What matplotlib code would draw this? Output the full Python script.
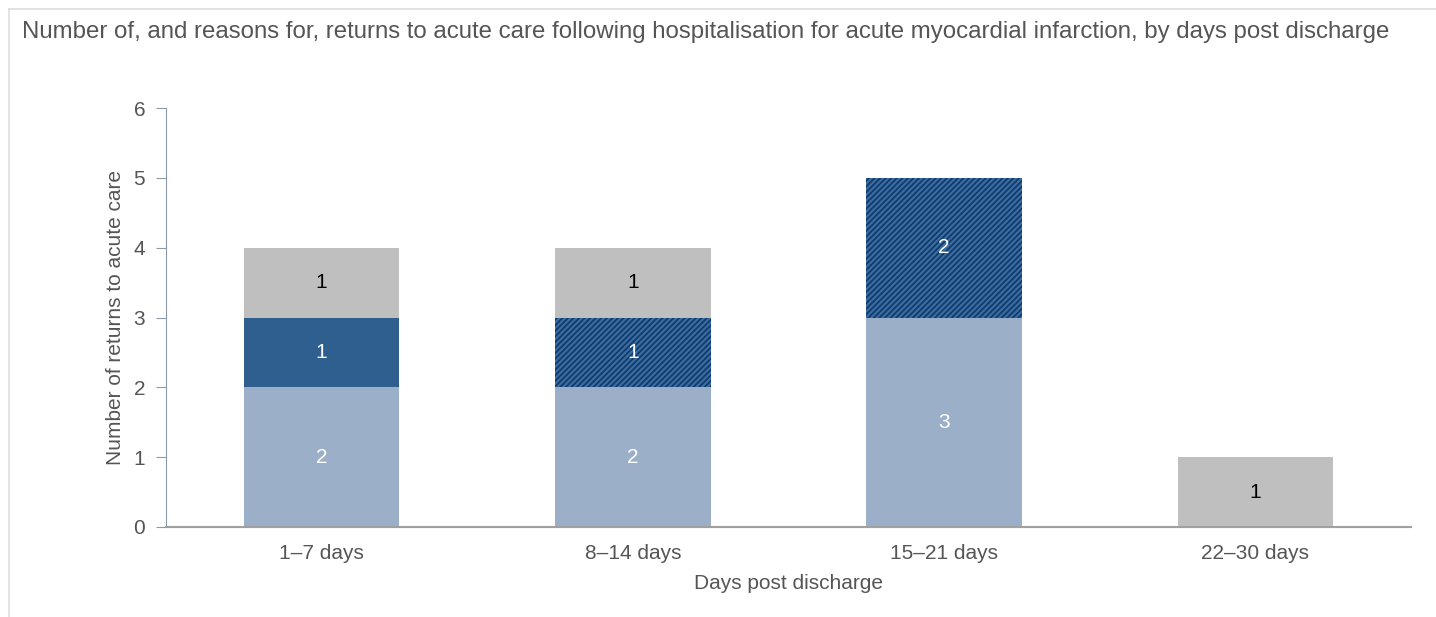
import matplotlib.pyplot as plt
import numpy as np
from matplotlib.lines import Line2D

plt.rcParams['font.family'] = ['Liberation Sans', 'DejaVu Sans']
plt.rcParams['hatch.linewidth'] = 1.6

categories = ['1–7 days', '8–14 days', '15–21 days', '22–30 days']
light_blue = [2, 2, 3, 0]
dark_blue = [1, 0, 0, 0]
hatched = [0, 1, 2, 0]
grey = [1, 1, 0, 1]

txt = '#555555'
fig = plt.figure(figsize=(14.36, 6.17), dpi=100)
ax = fig.add_axes([166 / 1436, 1 - 527 / 617, (1411 - 166) / 1436, (527 - 108) / 617])

x = np.arange(len(categories))
w = 0.5
bottom = np.zeros(len(categories))
series = [
    (light_blue, dict(color='#9bafc8'), 'white'),
    (dark_blue, dict(color='#2f5f8f'), 'white'),
    (hatched, dict(facecolor='#0b3a70', edgecolor='#3d6b9c', hatch='//////', linewidth=0), 'white'),
    (grey, dict(color='#bfbfbf'), 'black'),
]
for vals, style, tc in series:
    vals = np.array(vals, dtype=float)
    ax.bar(x, vals, w, bottom=bottom, **style)
    for xi, v, b in zip(x, vals, bottom):
        if v > 0:
            ax.text(xi, b + v / 2, f'{int(v)}', ha='center', va='center', color=tc, fontsize=15)
    bottom += vals

ax.set_xlim(-0.5, 3.5)
ax.set_ylim(0, 6)
ax.set_yticks(range(7))
ax.set_xticks(x)
ax.set_xticklabels(categories)
for s in ['top', 'right']:
    ax.spines[s].set_visible(False)
ax.spines['left'].set_color('#8a9aa8')
ax.spines['bottom'].set_color('#a0a0a0')
ax.spines['bottom'].set_linewidth(1.5)
ax.tick_params(axis='y', length=7, color='#8a9aa8', labelsize=15, labelcolor=txt, pad=8)
ax.tick_params(axis='x', length=0, labelsize=15, labelcolor=txt, pad=12)
ax.set_xlabel('Days post discharge', fontsize=15, color=txt, labelpad=8)
ax.set_ylabel('Number of returns to acute care', fontsize=15, color=txt, labelpad=6)

fig.text(22 / 1436, 1 - 32 / 617, 'Number of, and reasons for, returns to acute care following hospitalisation for acute myocardial infarction, by days post discharge',
         fontsize=17.3, color=txt, va='center', ha='left')

fig.add_artist(Line2D([9 / 1436, 9 / 1436], [0, 1 - 9 / 617], color='#dddddd', lw=1.2, transform=fig.transFigure))
fig.add_artist(Line2D([9 / 1436, 1], [1 - 9 / 617, 1 - 9 / 617], color='#dddddd', lw=1.2, transform=fig.transFigure))

fig.savefig('out.png', dpi=100)
